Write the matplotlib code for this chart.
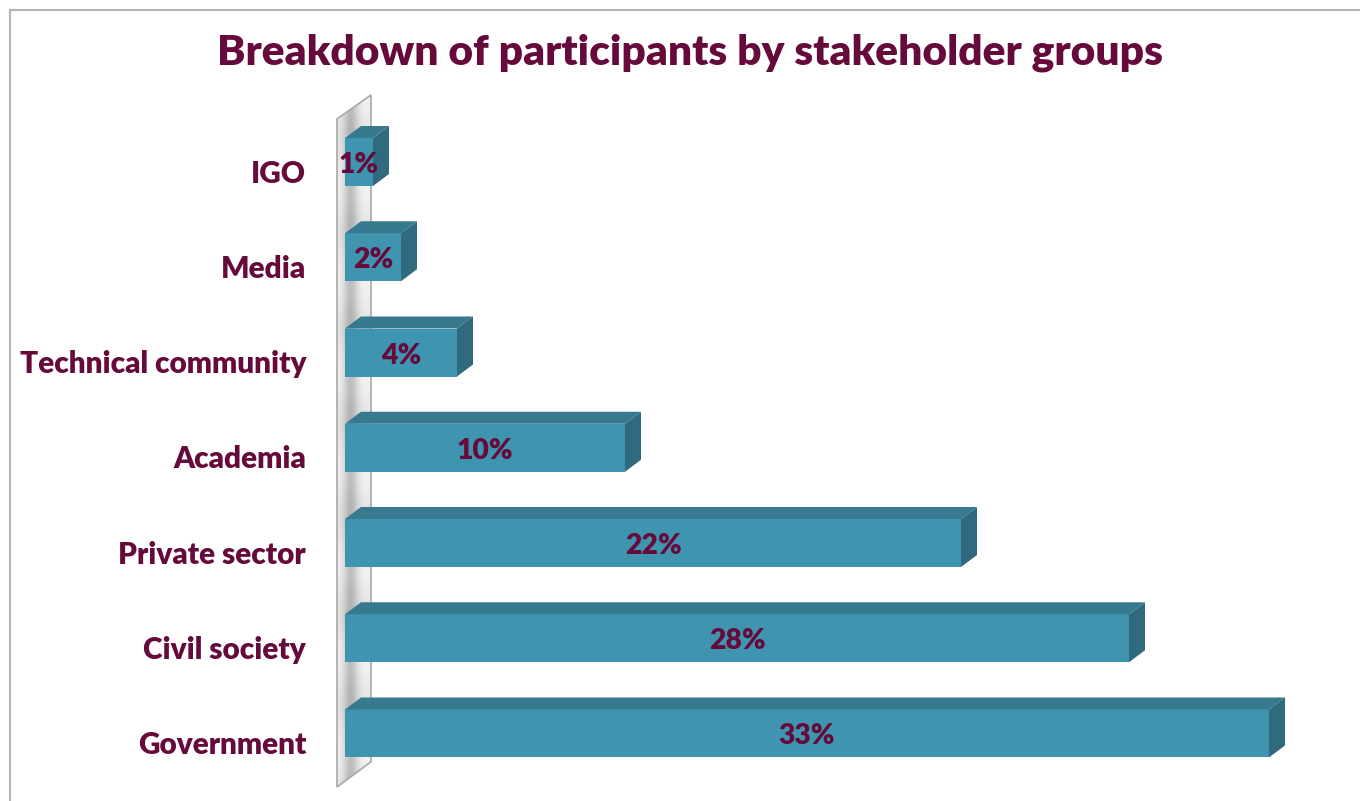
import numpy as np
import matplotlib
matplotlib.use("Agg")
import matplotlib.pyplot as plt
from matplotlib.patches import Polygon, Rectangle
from matplotlib.lines import Line2D

categories = ["Government", "Civil society", "Private sector", "Academia",
              "Technical community", "Media", "IGO"]
values = [33, 28, 22, 10, 4, 2, 1]
value_labels = ["33%", "28%", "22%", "10%", "4%", "2%", "1%"]
title = "Breakdown of participants by stakeholder groups"

maroon = "#650a3b"
c_front = "#3f94b0"
c_top = "#377a8f"
c_side = "#306a7e"

plt.rcParams["font.family"] = ["Lato", "DejaVu Sans"]

W, H = 1360, 801
fig = plt.figure(figsize=(W / 100, H / 100), dpi=100)

# axes placed so that 1 % = 28 px and category spacing = 95.25 px
ax = fig.add_axes([345 / W, (H - 795) / H, 995 / W, 705 / H])
px_x = 1 / 28.0
px_y = 1 / 95.25

h = 48 * px_y          # bar thickness
dx = 16 * px_x         # depth offset
dy = 12 * px_y

# back wall (slanted plane with gradient)
xf, xb = -8 * px_x, 26 * px_x
wall = [(xf, -0.562), (xb, -0.297), (xb, 6.704), (xf, 6.452)]
gx = np.linspace(0, 1, 64)
gy = np.linspace(0, 1, 400)[:, None]
shade = 0.95 - 0.20 * np.exp(-((gx - 0.4) / 0.22) ** 2)
shade = shade - 0.05 * np.sin(gy * np.pi * 7.4) ** 2
shade = np.clip(shade, 0, 1)
rgb = np.dstack([shade, shade, shade])
im = ax.imshow(rgb, extent=(xf, xb, -0.6, 6.75), aspect="auto", zorder=1,
               interpolation="bilinear")
wall_patch = Polygon(wall, closed=True, facecolor="none", edgecolor="#a8a8a8",
                     linewidth=1.2, zorder=2, clip_on=False)
ax.add_patch(wall_patch)
im.set_clip_path(wall_patch)
im.set_clip_box(fig.bbox)

for i, v in enumerate(values):
    y0, y1 = i - h / 2, i + h / 2
    ax.add_patch(Rectangle((0, y0), v, h, facecolor=c_front, edgecolor="none",
                           zorder=3, clip_on=False))
    ax.add_patch(Polygon([(0, y1), (v, y1), (v + dx, y1 + dy), (dx, y1 + dy)],
                         closed=True, facecolor=c_top, edgecolor="none",
                         zorder=3, clip_on=False))
    ax.add_patch(Polygon([(v, y0), (v + dx, y0 + dy), (v + dx, y1 + dy), (v, y1)],
                         closed=True, facecolor=c_side, edgecolor="none",
                         zorder=3, clip_on=False))
    ax.text(v / 2, i - 3 * px_y, value_labels[i], ha="center", va="center",
            fontsize=20.3, fontweight="heavy", color=maroon, zorder=4)

idx = np.arange(len(categories))
ax.set_yticks(idx - 9 * px_y)
ax.set_yticklabels(categories, fontsize=21.4, fontweight="heavy", color=maroon)
ax.tick_params(axis="y", length=0, pad=28)
ax.set_xticks([])
for s in ax.spines.values():
    s.set_visible(False)
ax.set_xlim(0, 995 * px_x)
ax.set_ylim(-0.6457, 6.756)
ax.patch.set_alpha(0)

fig.text(690 / W, (H - 53) / H, title, ha="center", va="center",
         fontsize=30.6, fontweight="heavy", color=maroon)

# outer frame
fig.add_artist(Line2D([10 / W, 10 / W], [0, (H - 10) / H], color="#b4b4b4",
                      linewidth=1.5, transform=fig.transFigure))
fig.add_artist(Line2D([10 / W, 1], [(H - 10) / H, (H - 10) / H], color="#b4b4b4",
                      linewidth=1.5, transform=fig.transFigure))

fig.savefig("out.png", dpi=100)
